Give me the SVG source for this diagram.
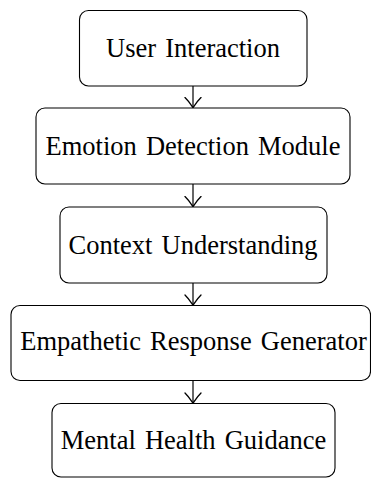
<svg xmlns="http://www.w3.org/2000/svg" width="371" height="478" viewBox="0 0 371 478">
  <style>
    .box { fill: #ffffff; stroke: #000000; stroke-width: 1.1; }
    .label { font-family: "Liberation Serif", "Times New Roman", serif; font-size: 26.5px; fill: #000000; text-anchor: middle; word-spacing: 2.5px; }
    .edge { fill: none; stroke: #000000; stroke-width: 1.2; }
  </style>
  <defs>
    <marker id="to" viewBox="-11 -10 13 20" markerWidth="13" markerHeight="20" refX="0" refY="0" orient="auto" markerUnits="userSpaceOnUse">
      <path d="M -10 -8 C -5 -3 -1 -1 0 0 C -1 1 -5 3 -10 8" fill="none" stroke="#000000" stroke-width="1.3" stroke-linecap="round"/>
    </marker>
  </defs>
  <rect width="371" height="478" fill="#ffffff"/>

  <g id="connectors">
    <line class="edge" x1="193" y1="86" x2="193" y2="107.5" marker-end="url(#to)"/>
    <line class="edge" x1="193" y1="184" x2="193" y2="206.5" marker-end="url(#to)"/>
    <line class="edge" x1="193" y1="283" x2="193" y2="305" marker-end="url(#to)"/>
    <line class="edge" x1="193" y1="380.5" x2="193" y2="403" marker-end="url(#to)"/>
  </g>

  <g id="user-interaction">
    <rect class="box" x="79.5" y="10.5" width="227.5" height="75.5" rx="9"/>
    <text class="label" x="193" y="57">User Interaction</text>
  </g>

  <g id="emotion-detection">
    <rect class="box" x="36" y="108" width="314" height="76" rx="9"/>
    <text class="label" x="193" y="155">Emotion Detection Module</text>
  </g>

  <g id="context-understanding">
    <rect class="box" x="60" y="207" width="267" height="76" rx="9"/>
    <text class="label" x="193" y="254">Context Understanding</text>
  </g>

  <g id="response-generator">
    <rect class="box" x="11" y="305.5" width="359.5" height="75" rx="9"/>
    <text class="label" x="193.5" y="350">Empathetic Response Generator</text>
  </g>

  <g id="mental-health-guidance">
    <rect class="box" x="52" y="403.5" width="283" height="73.5" rx="9"/>
    <text class="label" x="193.5" y="449">Mental Health Guidance</text>
  </g>
</svg>
